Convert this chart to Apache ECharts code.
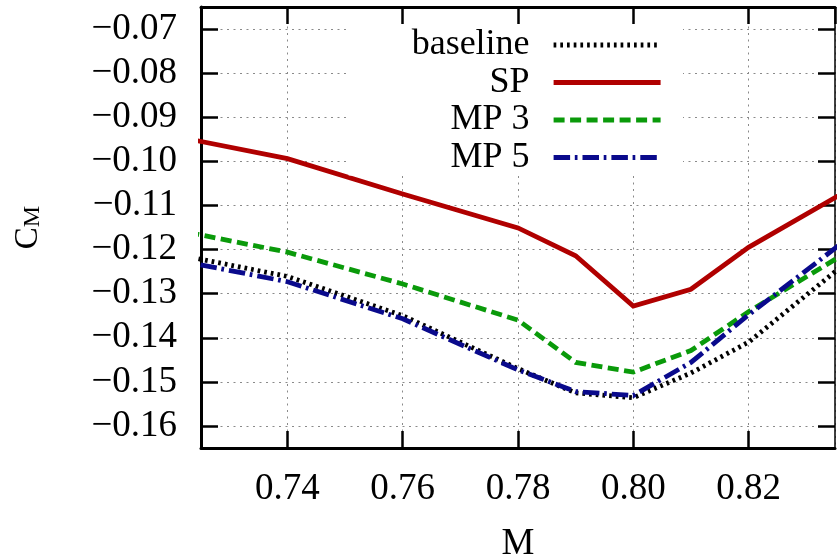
<!DOCTYPE html>
<html><head><meta charset="utf-8">
<script src="https://cdn.jsdelivr.net/npm/echarts@6/dist/echarts.min.js"></script>
<style>html,body{margin:0;padding:0;background:#fff}#c{width:837px;height:556px}</style>
</head><body><div id="c"></div>
<script>
// ---- data ----
const machNumbers = [0.72, 0.74, 0.76, 0.78, 0.79, 0.80, 0.81, 0.82, 0.84];
const baselineCM = [-0.1209, -0.1261, -0.1350, -0.1470, -0.1525, -0.1536, -0.1480, -0.1410, -0.1197];
const spCM       = [-0.0942, -0.0994, -0.1074, -0.1151, -0.1214, -0.1328, -0.1290, -0.1195, -0.1045];
const mp3CM      = [-0.1154, -0.1206, -0.1278, -0.1360, -0.1456, -0.1478, -0.1429, -0.1341, -0.1183];
const mp5CM      = [-0.1222, -0.1273, -0.1357, -0.1473, -0.1522, -0.1531, -0.1456, -0.1348, -0.1147];
const seriesNames = ['baseline', 'SP', 'MP 3', 'MP 5'];
const xRange = [0.725, 0.835];
const yRange = [-0.165, -0.065];

// ---- styles ----
const FONT = "'Liberation Serif', 'DejaVu Serif', serif";
const colors = ['#000000', '#b00000', '#0a9a0a', '#0a0a8c'];
const dashes = [[2.7, 4], 'solid', [11, 5.5], [16.5, 4.7, 2.7, 5]];

function pairs(ys) { return machNumbers.map((x, i) => [x, ys[i]]); }
const allY = [baselineCM, spCM, mp3CM, mp5CM];

const chart = echarts.init(document.getElementById('c'), null, {renderer: 'canvas'});

const axisCommon = {
  type: 'value',
  axisLine: {show: true, onZero: false, lineStyle: {color: '#000', width: 3}},
  axisTick: {show: true, inside: true, length: 17, lineStyle: {color: '#000', width: 2.5}},
  minorTick: {show: false}
};

chart.setOption({
  animation: false,
  backgroundColor: '#fff',
  grid: {left: 201, right: 2, top: 7, bottom: 108, containLabel: false, outerBoundsMode: 'none'},
  legend: {
    data: seriesNames,
    selectedMode: false,
    orient: 'vertical',
    align: 'right',
    right: 154,
    top: 26,
    padding: [1, 20, 0, 63],
    backgroundColor: '#fff',
    itemWidth: 107,
    itemHeight: 2,
    itemGap: 1.5,
    itemStyle: {opacity: 0},
    lineStyle: {width: 4.8},
    textStyle: {fontFamily: FONT, fontSize: 36, color: '#000', lineHeight: 32, padding: [0, 19, 0, 0]}
  },
  xAxis: [
    Object.assign({}, axisCommon, {
      position: 'bottom',
      min: xRange[0], max: xRange[1], splitNumber: 5,
      name: 'M', nameLocation: 'middle', nameGap: 78,
      nameTextStyle: {fontFamily: FONT, fontSize: 37, color: '#000'},
      axisLabel: {show: true, margin: 23, showMinLabel: false, showMaxLabel: false,
        fontFamily: FONT, fontSize: 37, color: '#000',
        formatter: v => v.toFixed(2)},
      splitLine: {show: true, lineStyle: {color: '#8a8a8a', width: 1, type: [2, 4.5]}}
    }),
    Object.assign({}, axisCommon, {
      position: 'top',
      min: xRange[0], max: xRange[1], splitNumber: 5,
      axisLabel: {show: false},
      splitLine: {show: false}
    })
  ],
  yAxis: [
    Object.assign({}, axisCommon, {
      position: 'left',
      min: yRange[0], max: yRange[1], splitNumber: 10,
      name: '{c|C}{m|M}', nameLocation: 'middle', nameGap: 156,
      nameTextStyle: {
        color: '#000',
        rich: {
          c: {fontFamily: FONT, fontSize: 33, lineHeight: 33, verticalAlign: 'top', color: '#000'},
          m: {fontFamily: FONT, fontSize: 24, lineHeight: 24, verticalAlign: 'bottom', padding: [22, 0, 0, 0], color: '#000'}
        }
      },
      axisLabel: {show: true, margin: 24, showMinLabel: false, showMaxLabel: false,
        fontFamily: FONT, fontSize: 37, color: '#000',
        formatter: v => '\u2212' + Math.abs(v).toFixed(2)},
      splitLine: {show: true, lineStyle: {color: '#8a8a8a', width: 1, type: [2, 4.5]}}
    }),
    Object.assign({}, axisCommon, {
      position: 'right',
      min: yRange[0], max: yRange[1], splitNumber: 10,
      axisLine: {show: true, onZero: false, lineStyle: {color: '#000', width: 1.5}},
      axisLabel: {show: false},
      splitLine: {show: false}
    })
  ],
  series: seriesNames.map((name, i) => ({
    name: name,
    type: 'line',
    xAxisIndex: 0, yAxisIndex: 0,
    data: pairs(allY[i]),
    symbol: 'none',
    showSymbol: false,
    clip: true,
    lineStyle: {color: colors[i], width: 4.8, type: dashes[i], cap: 'butt', join: 'miter'},
    itemStyle: {color: colors[i]},
    emphasis: {disabled: true}
  }))
});
</script>
</body></html>
